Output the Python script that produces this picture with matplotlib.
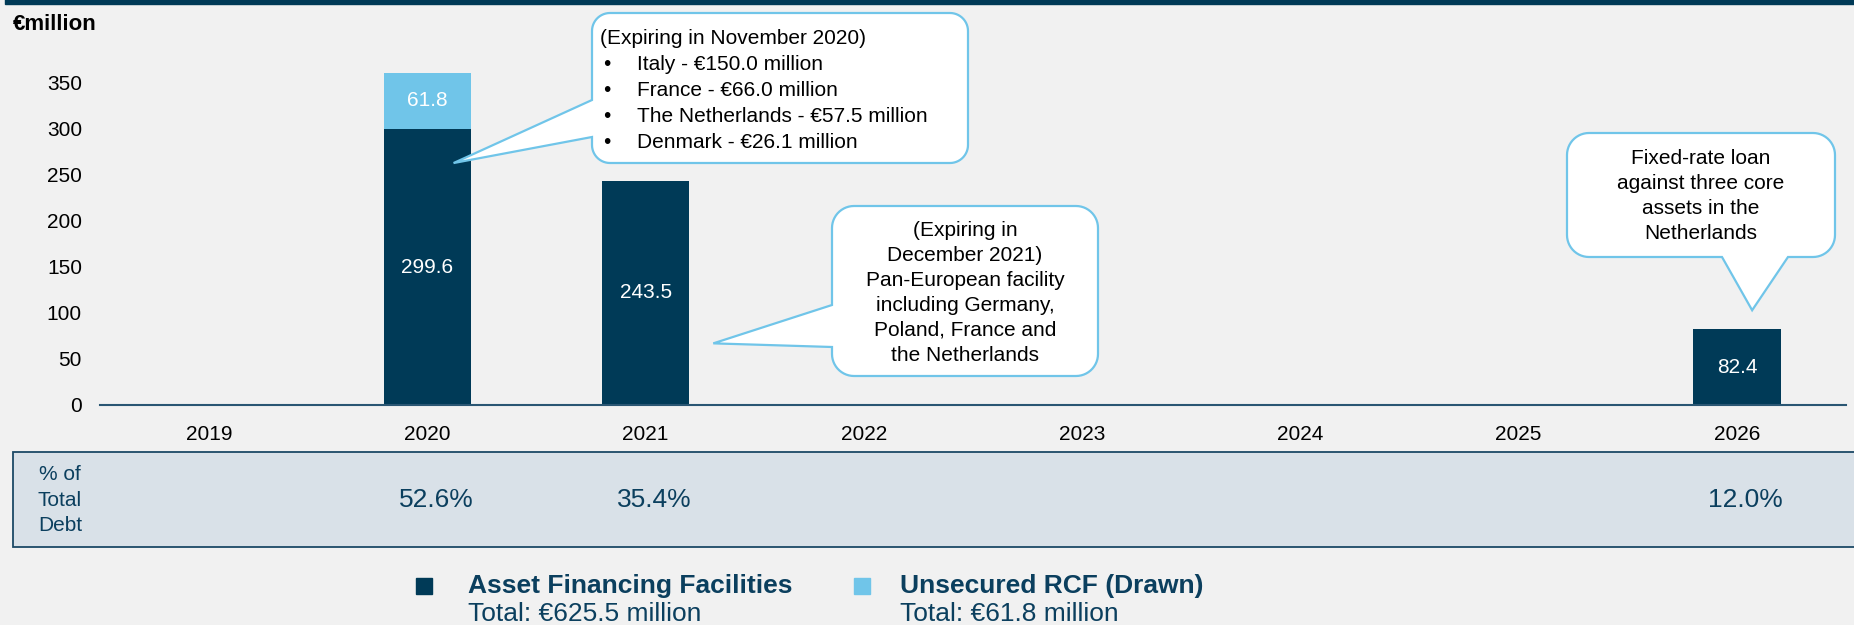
import numpy as np
import matplotlib
matplotlib.use("Agg")
import matplotlib.pyplot as plt
from matplotlib.path import Path
from matplotlib.patches import PathPatch, Rectangle
from matplotlib.transforms import blended_transform_factory

plt.rcParams['font.family'] = ['Liberation Sans', 'DejaVu Sans']

# data
years = ['2019', '2020', '2021', '2022', '2023', '2024', '2025', '2026']
asset_financing = [0, 299.6, 243.5, 0, 0, 0, 0, 82.4]
unsecured_rcf = [0, 61.8, 0, 0, 0, 0, 0, 0]
pct_total_debt = ['', '52.6%', '35.4%', '', '', '', '', '12.0%']
y_ticks = [0, 50, 100, 150, 200, 250, 300, 350]

legend_names = ['Asset Financing Facilities', 'Unsecured RCF (Drawn)']
legend_totals = ['Total: €625.5 million', 'Total: €61.8 million']

note_2020_head = '(Expiring in November 2020)'
note_2020_items = ['Italy - €150.0 million', 'France - €66.0 million',
                   'The Netherlands - €57.5 million', 'Denmark - €26.1 million']
note_2021 = ('(Expiring in\nDecember 2021)\nPan-European facility\n'
             'including Germany,\nPoland, France and\nthe Netherlands')
note_2026 = 'Fixed-rate loan\nagainst three core\nassets in the\nNetherlands'

DARK = '#003a57'
LIGHT = '#70c5e9'
BG = '#f1f1f1'
NAVY_TXT = '#0b3f5e'
W, H = 1854, 625


def fy(y_top):
    # pixel row from top -> figure fraction
    return (H - y_top) / H


fig = plt.figure(figsize=(W / 100, H / 100), dpi=100, facecolor=BG)
ax = fig.add_axes([100 / W, fy(405), 1746 / W, 368 / H])
ax.set_facecolor(BG)

x = np.arange(len(years))
ax.bar(x, asset_financing, width=0.4, color=DARK)
ax.bar(x, unsecured_rcf, width=0.4, bottom=asset_financing, color=LIGHT)

for i in range(len(years)):
    if asset_financing[i] > 0:
        ax.text(x[i], asset_financing[i] / 2, f'{asset_financing[i]:.1f}',
                ha='center', va='center', color='white', fontsize=15)
    if unsecured_rcf[i] > 0:
        ax.text(x[i], asset_financing[i] + unsecured_rcf[i] / 2, f'{unsecured_rcf[i]:.1f}',
                ha='center', va='center', color='white', fontsize=15)

ax.set_xlim(-0.5, len(years) - 0.5)
ax.set_ylim(0, 400)
ax.set_xticks(x)
ax.set_xticklabels(years)
ax.set_yticks(y_ticks)
ax.tick_params(axis='both', length=0, labelsize=15, colors='black')
ax.tick_params(axis='y', pad=13)
ax.tick_params(axis='x', pad=14.5)
for s in ['left', 'right', 'top']:
    ax.spines[s].set_visible(False)
ax.spines['bottom'].set_color('#2a5673')
ax.spines['bottom'].set_linewidth(1.5)


def callout(x0, y0, x1, y1, r, side, a, b, tip):
    # pixel coords, y upward
    def corner(cx, cy, t0, t1):
        t = np.radians(np.linspace(t0, t1, 14))
        return list(zip(cx + r * np.cos(t), cy + r * np.sin(t)))
    pts = corner(x0 + r, y0 + r, 180, 270)
    if side == 'bottom':
        pts += [(a, y0), tip, (b, y0)]
    pts += corner(x1 - r, y0 + r, 270, 360)
    pts += corner(x1 - r, y1 - r, 0, 90)
    pts += corner(x0 + r, y1 - r, 90, 180)
    if side == 'left':
        pts += [(x0, b), tip, (x0, a)]
    pts.append(pts[0])
    verts = np.array(pts) / [W, H]
    patch = PathPatch(Path(verts, closed=True), transform=fig.transFigure,
                      facecolor='white', edgecolor=LIGHT, lw=1.6, zorder=2)
    fig.add_artist(patch)


tip1 = ax.transData.transform((1.12, 263))
callout(592, H - 163, 968, H - 13, 18, 'left', H - 137, H - 100, tip1)
tip2 = ax.transData.transform((2.31, 67))
callout(832, H - 376, 1098, H - 206, 22, 'left', H - 347, H - 305, tip2)
tip3 = ax.transData.transform((7.07, 103))
callout(1567, H - 257, 1835, H - 133, 22, 'bottom', 1722, 1788, tip3)

# callout texts
fig.text(600 / W, fy(39), note_2020_head, fontsize=15, va='center', zorder=3)
for k, item in enumerate(note_2020_items):
    yy = fy(65 + 25.7 * k)
    fig.text(603 / W, yy, '•', fontsize=15, va='center', zorder=3)
    fig.text(637 / W, yy, item, fontsize=15, va='center', zorder=3)
fig.text(965 / W, fy(293), note_2021, fontsize=15, ha='center', va='center',
         linespacing=1.39, zorder=3)
fig.text(1701 / W, fy(196), note_2026, fontsize=15, ha='center', va='center',
         linespacing=1.39, zorder=3)

# top rule and unit label
fig.add_artist(Rectangle((5 / W, fy(4)), 1, 0.02, transform=fig.transFigure,
                         color=DARK, zorder=1))
fig.text(13 / W, fy(24), '€million', fontsize=16, fontweight='bold', va='center')

# % of total debt table
fig.add_artist(Rectangle((13 / W, fy(547)), 1870 / W, 95 / H, transform=fig.transFigure,
                         facecolor='#d9e1e8', edgecolor='#1c4966', lw=1.3, zorder=1))
fig.text(60 / W, fy(500), '% of\nTotal\nDebt', fontsize=15, ha='center', va='center',
         color=NAVY_TXT, linespacing=1.42, zorder=3)
tr = blended_transform_factory(ax.transData, fig.transFigure)
for i, p in enumerate(pct_total_debt):
    if p:
        fig.text(x[i] + 0.04, fy(500), p, transform=tr, fontsize=19, ha='center',
                 va='center', color=NAVY_TXT, zorder=3)

# legend
for sq_x, tx, col, name, tot in [(416, 468, DARK, legend_names[0], legend_totals[0]),
                                  (854, 900, LIGHT, legend_names[1], legend_totals[1])]:
    fig.add_artist(Rectangle((sq_x / W, fy(594)), 16 / W, 16 / H, transform=fig.transFigure,
                             color=col, zorder=2))
    fig.text(tx / W, fy(586), name, fontsize=19, fontweight='bold', va='center', color=NAVY_TXT)
    fig.text(tx / W, fy(614), tot, fontsize=19, va='center', color=NAVY_TXT)

fig.savefig('out.png', dpi=100, facecolor=BG)
